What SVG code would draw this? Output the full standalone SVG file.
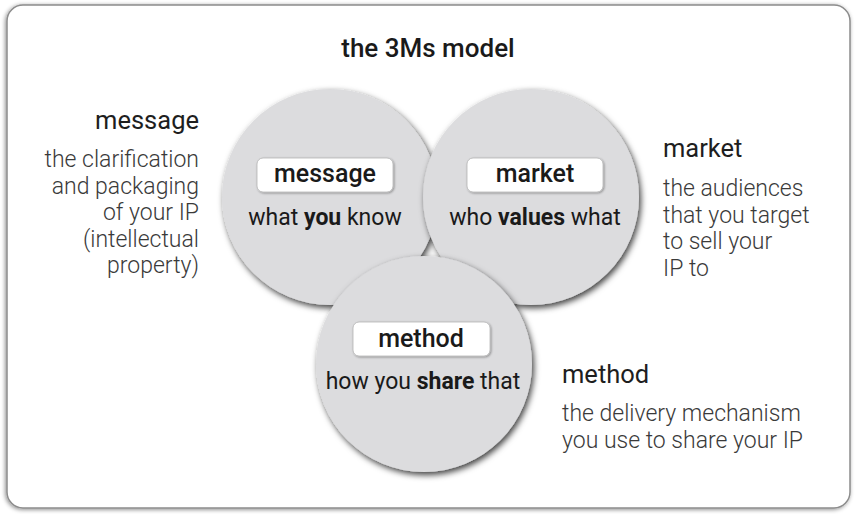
<svg xmlns="http://www.w3.org/2000/svg" width="857" height="514" viewBox="0 0 857 514">
  <defs>
    <filter id="frameShadow" x="-5%" y="-5%" width="110%" height="110%">
      <feGaussianBlur in="SourceAlpha" stdDeviation="2"/>
      <feOffset dx="-1" dy="1" result="b"/>
      <feFlood flood-color="#000" flood-opacity="0.45"/>
      <feComposite in2="b" operator="in"/>
      <feMerge><feMergeNode/><feMergeNode in="SourceGraphic"/></feMerge>
    </filter>
    <filter id="ballShadow" x="-20%" y="-20%" width="140%" height="140%">
      <feGaussianBlur in="SourceAlpha" stdDeviation="3"/>
      <feOffset dx="2" dy="3" result="b"/>
      <feFlood flood-color="#000" flood-opacity="0.75"/>
      <feComposite in2="b" operator="in"/>
      <feMerge><feMergeNode/><feMergeNode in="SourceGraphic"/></feMerge>
    </filter>
    <filter id="tagShadow" x="-10%" y="-20%" width="120%" height="140%">
      <feGaussianBlur in="SourceAlpha" stdDeviation="1"/>
      <feOffset dx="0.5" dy="1" result="b"/>
      <feFlood flood-color="#000" flood-opacity="0.35"/>
      <feComposite in2="b" operator="in"/>
      <feMerge><feMergeNode/><feMergeNode in="SourceGraphic"/></feMerge>
    </filter>
  </defs>
  <style>
    .frame { fill: #ffffff; stroke: #8c8c8c; stroke-width: 1.5; }
    .ball { fill: #dcdcde; }
    .tag { fill: #ffffff; stroke: #b5b5b5; stroke-width: 0.8; }
    .title { font-family: Roboto, "Liberation Sans", sans-serif; font-size: 26px; font-weight: 500; fill: #1a1a1a; text-anchor: middle; }
    .tagtext { font-family: Roboto, "Liberation Sans", sans-serif; font-size: 25px; font-weight: 500; fill: #1a1a1a; text-anchor: middle; }
    .sub { font-family: Roboto, "Liberation Sans", sans-serif; font-size: 23px; font-weight: 400; fill: #1a1a1a; text-anchor: middle; }
    .sub tspan.b { font-weight: 700; }
    .head { font-family: Roboto, "Liberation Sans", sans-serif; font-size: 25.5px; font-weight: 400; fill: #1e1e1e; }
    .body { font-family: Roboto, "Liberation Sans", sans-serif; font-size: 23px; font-weight: 300; fill: #3a3a3a; }
    .right { text-anchor: end; }
  </style>

  <!-- outer panel -->
  <rect class="frame" x="7" y="5" width="843" height="503" rx="16" ry="16" filter="url(#frameShadow)"/>

  <text class="title" x="428" y="57">the 3Ms model</text>

  <!-- message circle -->
  <g id="message">
    <circle class="ball" cx="330" cy="197" r="108" filter="url(#ballShadow)"/>
    <rect class="tag" x="257" y="158" width="136" height="34" rx="6" filter="url(#tagShadow)"/>
    <text class="tagtext" x="325" y="182">message</text>
    <text class="sub" x="325" y="225">what <tspan class="b">you</tspan> know</text>
  </g>

  <!-- market circle -->
  <g id="market">
    <circle class="ball" cx="531" cy="197" r="108" filter="url(#ballShadow)"/>
    <rect class="tag" x="467" y="158" width="136" height="34" rx="6" filter="url(#tagShadow)"/>
    <text class="tagtext" x="535" y="182">market</text>
    <text class="sub" x="535" y="225">who <tspan class="b">values</tspan> what</text>
  </g>

  <!-- method circle -->
  <g id="method">
    <circle class="ball" cx="424" cy="364" r="108" filter="url(#ballShadow)"/>
    <rect class="tag" x="353" y="322" width="137" height="34" rx="6" filter="url(#tagShadow)"/>
    <text class="tagtext" x="421" y="346.5">method</text>
    <text class="sub" x="423" y="388.5">how you <tspan class="b">share</tspan> that</text>
  </g>

  <!-- side descriptions -->
  <g id="message-note">
    <text class="head right" x="199" y="129">message</text>
    <text class="body right" x="199" y="167">the clarification</text>
    <text class="body right" x="199" y="193.5">and packaging</text>
    <text class="body right" x="199" y="220">of your IP</text>
    <text class="body right" x="199" y="246.5">(intellectual</text>
    <text class="body right" x="199" y="273">property)</text>
  </g>

  <g id="market-note">
    <text class="head" x="663" y="157">market</text>
    <text class="body" x="663" y="196">the audiences</text>
    <text class="body" x="663" y="222.5">that you target</text>
    <text class="body" x="663" y="249">to sell your</text>
    <text class="body" x="663" y="275.5">IP to</text>
  </g>

  <g id="method-note">
    <text class="head" x="562" y="383">method</text>
    <text class="body" x="562" y="421">the delivery mechanism</text>
    <text class="body" x="562" y="447.5">you use to share your IP</text>
  </g>

  <g id="connectors"/>
</svg>
